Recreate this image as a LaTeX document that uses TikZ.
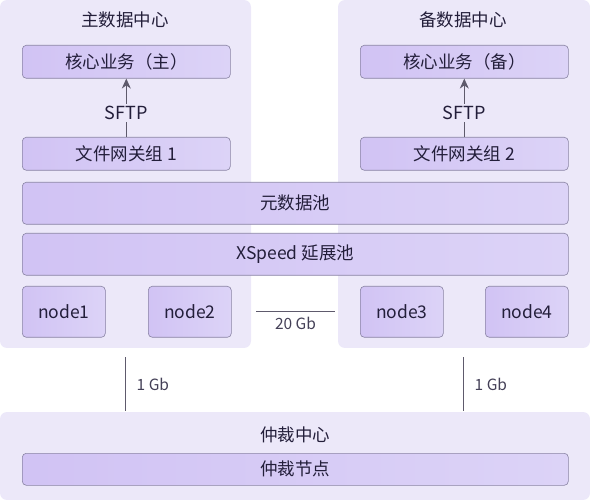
\documentclass[tikz,border=0pt]{standalone}
\usepackage{fontspec}
\setmainfont{Noto Sans CJK SC}
\usetikzlibrary{arrows.meta}

% colours
\definecolor{panelbg}{HTML}{ECE8F9}
\definecolor{boxfill}{HTML}{D1C3F4}
\definecolor{boxlight}{HTML}{DCD3F7}
\definecolor{boxline}{HTML}{8A84A4}
\definecolor{textcol}{HTML}{231E3A}
\definecolor{linkcol}{HTML}{5E5A6C}

\tikzset{
  panel/.style={fill=panelbg, rounded corners=7pt},
  paneltitle/.style={text=textcol, font=\fontsize{17.5}{20}\selectfont},
  unit/.style={draw=boxline, line width=0.6pt, left color=boxfill, right color=boxlight,
    rounded corners=4pt, anchor=north west, inner sep=0pt, text=textcol,
    font=\fontsize{17.5}{20}\selectfont},
  link/.style={draw=linkcol, line width=0.8pt},
  linklabel/.style={text=textcol!85, font=\fontsize{15.5}{18}\selectfont},
  sftplabel/.style={fill=panelbg, inner sep=2pt, text=textcol, font=\fontsize{18}{20}\selectfont},
}

\begin{document}
\begin{tikzpicture}[x=1pt, y=-1pt]
  \useasboundingbox (0,0) rectangle (590,500);

  % Filling panels: main, backup, arbiter
  \fill[panel] (0,0) rectangle (251,348);
  \fill[panel] (338,0) rectangle (590,348);
  \fill[panel] (0,412) rectangle (590,500);

  % Panel titles
  \node[paneltitle] (tmain) at (125,20) {主数据中心};
  \node[paneltitle] (tback) at (463,20) {备数据中心};
  \node[paneltitle] (tarb) at (295,435) {仲裁中心};

  % Core services
  \node[unit, minimum width=208pt, minimum height=33pt] (core1) at (22,45) {核心业务（主）};
  \node[unit, minimum width=208pt, minimum height=33pt] (core2) at (360,45) {核心业务（备）};

  % File gateway groups
  \node[unit, minimum width=208pt, minimum height=33pt] (gw1) at (22,137) {文件网关组 1};
  \node[unit, minimum width=208pt, minimum height=33pt] (gw2) at (360,137) {文件网关组 2};

  % Shared pools
  \node[unit, minimum width=546pt, minimum height=42pt] (meta) at (22,182) {元数据池};
  \node[unit, minimum width=546pt, minimum height=42pt] (xspeed) at (22,233) {XSpeed 延展池};

  % Storage nodes
  \node[unit, minimum width=83pt, minimum height=51pt] (node1) at (22,286) {node1};
  \node[unit, minimum width=83pt, minimum height=51pt] (node2) at (148,286) {node2};
  \node[unit, minimum width=83pt, minimum height=51pt] (node3) at (360,286) {node3};
  \node[unit, minimum width=83pt, minimum height=51pt] (node4) at (485,286) {node4};

  % Arbiter node
  \node[unit, minimum width=546pt, minimum height=32pt] (arb) at (22,453) {仲裁节点};

  % SFTP links
  \draw[link, -{Stealth[length=10pt, width=9pt]}] (gw1) -- (core1)
    node[pos=0.41, sftplabel] (sftp1) {SFTP};
  \draw[link, -{Stealth[length=10pt, width=9pt]}] (gw2) -- (core2)
    node[pos=0.41, sftplabel] (sftp2) {SFTP};

  % 20 Gb link between the data centres
  \coordinate (dcl) at (256,311);
  \coordinate (dcr) at (335,311);
  \draw[link, line width=0.6pt] (dcl) -- (dcr) node[midway, below=3pt, linklabel] (bw20) {20 Gb};

  % 1 Gb links to the arbiter
  \coordinate (upl) at (125,357);
  \coordinate (upr) at (463,357);
  \coordinate (dnl) at (125,411);
  \coordinate (dnr) at (463,411);
  \draw[link] (upl) -- (dnl) node[midway, right=8pt, linklabel] (bw1l) {1 Gb};
  \draw[link] (upr) -- (dnr) node[midway, right=8pt, linklabel] (bw1r) {1 Gb};
\end{tikzpicture}
\end{document}
